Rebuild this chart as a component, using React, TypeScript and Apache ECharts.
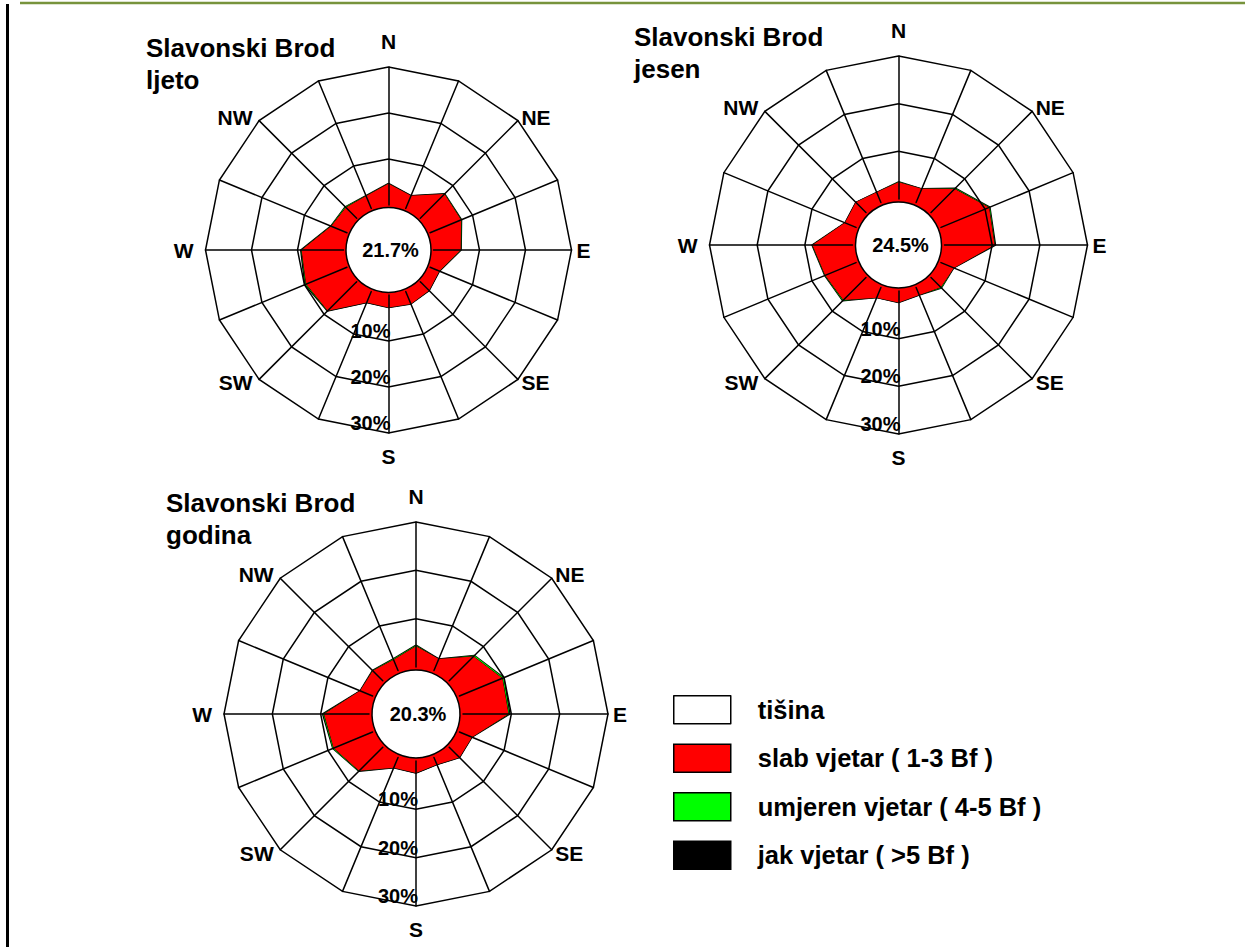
import React, { useEffect, useRef } from 'react';
import * as echarts from 'echarts';

const FONT = '"Liberation Sans", Arial, sans-serif';

// 16 wind directions, clockwise from north
const directions = ['N', 'NNE', 'NE', 'ENE', 'E', 'ESE', 'SE', 'SSE', 'S', 'SSW', 'SW', 'WSW', 'W', 'WNW', 'NW', 'NNW'];
const mainDirections = ['N', 'NE', 'E', 'SE', 'S', 'SW', 'W', 'NW'];
const radialTicks = [0, 10, 20, 30];

const titles = ['Slavonski Brod\nljeto', 'Slavonski Brod\njesen', 'Slavonski Brod\ngodina'];
const calm = [21.7, 24.5, 20.3];

// percentages per direction (clockwise from N)
const ljetoSlab = [4.6, 3.0, 7.4, 7.3, 5.9, 2.2, 2.7, 2.9, 2.7, 2.6, 8.9, 9.6, 9.1, 3.7, 3.3, 2.9];
const ljetoUmjeren = [0.1, 0, 0.1, 0.1, 0.1, 0, 0, 0, 0, 0, 0.1, 0.2, 0.1, 0.1, 0.2, 0.1];
const ljetoJak = [0, 0, 0, 0, 0, 0, 0, 0, 0, 0, 0, 0.1, 0.1, 0, 0, 0];

const jesenSlab = [3.5, 3.1, 7.0, 10.9, 10.5, 2.9, 2.9, 1.7, 2.4, 2.3, 6.7, 7.0, 8.4, 2.5, 3.0, 2.3];
const jesenUmjeren = [0.1, 0, 0.2, 0.2, 0.1, 0, 0.2, 0, 0, 0, 0.2, 0.1, 0.1, 0, 0, 0];
const jesenJak = [0, 0, 0, 0, 0.1, 0, 0, 0, 0, 0, 0, 0, 0, 0, 0, 0];

const godinaSlab = [4.3, 2.6, 7.1, 9.6, 9.4, 2.8, 3.0, 1.6, 2.5, 2.3, 6.9, 8.7, 9.3, 2.8, 2.9, 2.4];
const godinaUmjeren = [0.2, 0, 0.3, 0.3, 0.2, 0, 0, 0, 0, 0, 0.1, 0.2, 0.2, 0, 0.1, 0.2];
const godinaJak = [0, 0, 0, 0, 0.1, 0, 0, 0, 0, 0, 0, 0, 0.1, 0, 0, 0];

const legendNames = ['tišina', 'slab vjetar ( 1-3 Bf )', 'umjeren vjetar ( 4-5 Bf )', 'jak vjetar ( >5 Bf )'];
const legendColors = ['#ffffff', '#ff0000', '#00ff00', '#000000'];

const roses = [
  { slab: ljetoSlab, umj: ljetoUmjeren, jak: ljetoJak },
  { slab: jesenSlab, umj: jesenUmjeren, jak: jesenJak },
  { slab: godinaSlab, umj: godinaUmjeren, jak: godinaJak },
];

// layout (positions / sizes only)
const layouts = [
  { cx: 388.5, cy: 250, r0: 45, r: 183, calmR: 42.5, titleLeft: 146, titleTop: 32 },
  { cx: 898.5, cy: 245, r0: 46, r: 189, calmR: 43, titleLeft: 634, titleTop: 21 },
  { cx: 416, cy: 714, r0: 47, r: 192, calmR: 44, titleLeft: 166, titleTop: 487 },
];

// ECharts radar places indicators counter-clockwise, so reorder
const ccw = <T,>(arr: T[]): T[] => arr.map((_, i) => arr[(arr.length - i) % arr.length]);

export default function App() {
  const ref = useRef<HTMLDivElement>(null);

  useEffect(() => {
    if (!ref.current) return;
    const chart = echarts.init(ref.current, undefined, { renderer: 'svg' });

    const indicators = ccw(directions).map((d) => ({
      name: mainDirections.includes(d) ? d : '',
      min: radialTicks[0],
      max: radialTicks[radialTicks.length - 1],
    }));

    const nameStyle = { fontSize: 21, fontWeight: 'bold', color: '#000', fontFamily: FONT };

    const radar = layouts.map((l) => ({
      center: [l.cx, l.cy],
      radius: [l.r0, l.r],
      startAngle: 90,
      shape: 'polygon',
      splitNumber: radialTicks.length - 1,
      indicator: indicators,
      z: 3,
      nameGap: 5,
      axisName: {
        ...nameStyle,
        formatter: (name: string) => {
          if (name === 'N') return '{n|N}';
          if (name === 'S') return '{s|S}';
          if (name === 'W') return '{w|W}';
          if (name === 'NW' || name === 'SW') return '{d|' + name + '}';
          return name;
        },
        rich: {
          n: { ...nameStyle, padding: [0, 0, 10, 0] },
          s: { ...nameStyle, padding: [8, 0, 0, 0] },
          w: { ...nameStyle, padding: [0, 7, 0, 0] },
          d: { ...nameStyle, padding: [0, 3, 0, 0] },
        },
      },
      axisLine: { show: true, lineStyle: { color: '#000', width: 1.5 } },
      axisTick: { show: false },
      axisLabel: { show: false },
      splitLine: {
        show: true,
        lineStyle: { color: ['rgba(0,0,0,0)', '#000', '#000', '#000'], width: 1.5 },
      },
      splitArea: { show: false },
    }));

    const radarSeries = roses.map((rs, i) => {
      const slabUmj = rs.slab.map((v, k) => +(v + rs.umj[k]).toFixed(2));
      const total = rs.slab.map((v, k) => +(v + rs.umj[k] + rs.jak[k]).toFixed(2));
      return {
        type: 'radar',
        radarIndex: i,
        symbol: 'none',
        silent: true,
        z: 2,
        emphasis: { disabled: true },
        data: [
          {
            name: legendNames[3],
            value: ccw(total),
            lineStyle: { color: '#000', width: 1.5 },
            areaStyle: { color: '#000', opacity: 1 },
            itemStyle: { color: '#000' },
          },
          {
            name: legendNames[2],
            value: ccw(slabUmj),
            lineStyle: { width: 0, color: '#00ff00' },
            areaStyle: { color: '#00ff00', opacity: 1 },
            itemStyle: { color: '#00ff00' },
          },
          {
            name: legendNames[1],
            value: ccw(rs.slab),
            lineStyle: { color: '#000', width: 1 },
            areaStyle: { color: '#ff0000', opacity: 1 },
            itemStyle: { color: '#ff0000' },
          },
        ],
      };
    });

    const calmSeries = layouts.map((l, i) => ({
      type: 'pie',
      center: [l.cx, l.cy],
      radius: [0, l.calmR],
      z: 4,
      silent: true,
      emphasis: { disabled: true },
      label: {
        show: true,
        position: 'center',
        formatter: '{c}%',
        fontSize: 20,
        fontWeight: 'bold',
        color: '#000',
        fontFamily: FONT,
        padding: [2, 0, 0, 4],
      },
      labelLine: { show: false },
      itemStyle: { color: '#ffffff', borderColor: '#000', borderWidth: 1.5 },
      data: [{ name: legendNames[0], value: calm[i] }],
    }));

    const option: any = {
      animation: false,
      backgroundColor: '#ffffff',
      title: layouts.map((l, i) => ({
        text: titles[i],
        left: l.titleLeft,
        top: l.titleTop,
        padding: 0,
        textStyle: { fontSize: 26, fontWeight: 'bold', color: '#000', lineHeight: 32, fontFamily: FONT },
      })),
      legend: {
        orient: 'vertical',
        left: 668,
        top: 690,
        itemWidth: 57,
        itemHeight: 28,
        itemGap: 19,
        icon: 'rect',
        selectedMode: false,
        textStyle: { fontSize: 25.5, fontWeight: 'bold', color: '#000', fontFamily: FONT, padding: [0, 0, 0, 22] },
        data: legendNames.map((n, i) => ({
          name: n,
          itemStyle: { color: legendColors[i], borderColor: '#000', borderWidth: 1.5 },
        })),
      },
      radar,
      grid: layouts.map((l) => ({
        left: l.cx,
        top: l.cy + l.r0,
        width: 1,
        height: l.r - l.r0,
        containLabel: false,
        outerBoundsMode: 'none',
      })),
      xAxis: layouts.map((_, i) => ({ type: 'value', gridIndex: i, show: false, min: 0, max: 1 })),
      yAxis: layouts.map((_, i) => ({
        type: 'value',
        gridIndex: i,
        min: radialTicks[0],
        max: radialTicks[radialTicks.length - 1],
        interval: radialTicks[1] - radialTicks[0],
        inverse: true,
        position: 'left',
        z: 5,
        axisLine: { show: false },
        axisTick: { show: false },
        splitLine: { show: false },
        axisLabel: {
          show: true,
          margin: -2,
          verticalAlign: 'bottom',
          fontSize: 20,
          fontWeight: 'bold',
          color: '#000',
          fontFamily: FONT,
          formatter: (v: number) => (v === 0 ? '' : v + '%'),
        },
      })),
      graphic: [
        { type: 'line', shape: { x1: 20, y1: 3, x2: 1245, y2: 3 }, style: { stroke: '#77933c', lineWidth: 2.5 } },
        { type: 'line', shape: { x1: 7.5, y1: 4, x2: 7.5, y2: 947 }, style: { stroke: '#000', lineWidth: 3 } },
      ],
      series: [...radarSeries, ...calmSeries],
    };

    chart.setOption(option);
    return () => chart.dispose();
  }, []);

  return <div ref={ref} style={{ position: 'fixed', left: 0, top: 0, width: 1245, height: 947 }} />;
}
